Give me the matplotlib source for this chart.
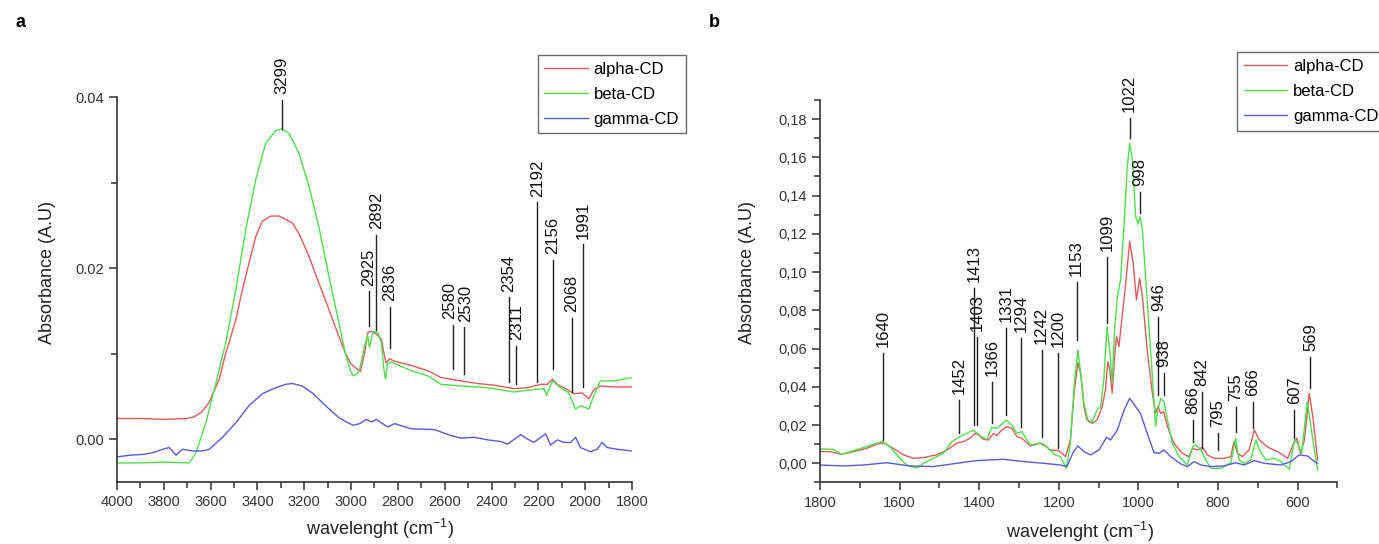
import matplotlib
matplotlib.use('Agg')
import matplotlib.pyplot as plt
from matplotlib.ticker import MultipleLocator, FuncFormatter

plt.rcParams['font.family'] = ['Liberation Sans', 'DejaVu Sans']
plt.rcParams['mathtext.fontset'] = 'custom'
plt.rcParams['mathtext.rm'] = 'Liberation Sans'

# ---- data: (wavenumber, absorbance) ----
# panel a (4000-1800 cm-1)
alpha_a = [(4000, 0.0024), (3900, 0.0024), (3800, 0.0023), (3700, 0.0024), (3670, 0.0026),
           (3640, 0.0031), (3606, 0.0043), (3563, 0.0070), (3535, 0.0101), (3521, 0.0113),
           (3492, 0.0140), (3464, 0.0175), (3436, 0.0206), (3407, 0.0237), (3379, 0.0255),
           (3343, 0.0261), (3308, 0.0261), (3279, 0.0257), (3251, 0.0253), (3223, 0.0241),
           (3180, 0.0214), (3138, 0.0183), (3095, 0.0152), (3052, 0.0120), (3020, 0.0098),
           (3000, 0.0088), (2975, 0.0082), (2960, 0.0079), (2942, 0.0101), (2928, 0.0125),
           (2913, 0.0126), (2892, 0.0123), (2871, 0.0117), (2857, 0.0097), (2850, 0.0089),
           (2836, 0.0094), (2814, 0.0091), (2743, 0.0086), (2672, 0.0080), (2616, 0.0072),
           (2530, 0.0068), (2460, 0.0065), (2389, 0.0063), (2304, 0.0059), (2247, 0.0060),
           (2190, 0.0064), (2162, 0.0064), (2140, 0.0070), (2119, 0.0064), (2077, 0.0058),
           (2048, 0.0053), (2013, 0.0054), (1984, 0.0047), (1963, 0.0058), (1935, 0.0062),
           (1878, 0.0061), (1800, 0.0061)]
beta_a = [(4000, -0.0028), (3900, -0.0028), (3800, -0.0027), (3690, -0.0028), (3662, -0.0016),
          (3620, 0.0019), (3577, 0.0066), (3535, 0.0113), (3492, 0.0175), (3450, 0.0245),
          (3407, 0.0304), (3365, 0.0346), (3322, 0.0361), (3296, 0.0363), (3265, 0.0358),
          (3223, 0.0335), (3180, 0.0296), (3138, 0.0249), (3095, 0.0191), (3052, 0.0136),
          (3024, 0.0100), (3003, 0.0080), (2991, 0.0074), (2975, 0.0076), (2963, 0.0082),
          (2942, 0.0109), (2930, 0.0121), (2921, 0.0107), (2906, 0.0126), (2885, 0.0125),
          (2871, 0.0113), (2860, 0.0082), (2853, 0.0070), (2845, 0.0088), (2828, 0.0090),
          (2743, 0.0080), (2672, 0.0074), (2616, 0.0064), (2530, 0.0062), (2460, 0.0061),
          (2389, 0.0059), (2304, 0.0055), (2219, 0.0058), (2176, 0.0059), (2165, 0.0051),
          (2140, 0.0068), (2105, 0.0060), (2070, 0.0054), (2041, 0.0035), (2020, 0.0039),
          (1984, 0.0035), (1963, 0.0051), (1935, 0.0068), (1878, 0.0068), (1800, 0.0072)]
gamma_a = [(4000, -0.0021), (3946, -0.0019), (3889, -0.0018), (3847, -0.0016), (3804, -0.0012),
           (3776, -0.0010), (3748, -0.0019), (3720, -0.0012), (3677, -0.0014), (3634, -0.0014),
           (3606, -0.0012), (3549, 0.0002), (3492, 0.0019), (3436, 0.0039), (3379, 0.0053),
           (3322, 0.0060), (3279, 0.0064), (3251, 0.0065), (3209, 0.0062), (3166, 0.0054),
           (3109, 0.0039), (3052, 0.0025), (3020, 0.0020), (2991, 0.0016), (2963, 0.0018),
           (2935, 0.0023), (2913, 0.0020), (2892, 0.0023), (2871, 0.0019), (2843, 0.0014),
           (2814, 0.0018), (2743, 0.0012), (2644, 0.0011), (2573, 0.0004), (2530, 0.0001),
           (2474, 0.0002), (2417, -0.0001), (2360, -0.0003), (2332, -0.0006), (2275, 0.0005),
           (2247, 0.0000), (2219, -0.0004), (2190, 0.0002), (2169, 0.0006), (2148, -0.0007),
           (2119, -0.0001), (2091, -0.0004), (2062, -0.0004), (2041, 0.0002), (2020, -0.0010),
           (1977, -0.0015), (1949, -0.0012), (1928, -0.0004), (1906, -0.0010), (1864, -0.0012),
           (1800, -0.0014)]

# panel b (1800-550 cm-1)
alpha_b = [(1800, 0.0061), (1775, 0.0061), (1746, 0.0047), (1716, 0.0061), (1683, 0.0078),
           (1658, 0.0099), (1641, 0.0108), (1616, 0.0078), (1590, 0.0044), (1565, 0.0026),
           (1540, 0.0030), (1507, 0.0044), (1481, 0.0070), (1456, 0.0105), (1440, 0.0113),
           (1423, 0.0131), (1410, 0.0157), (1402, 0.0148), (1389, 0.0125), (1377, 0.0122),
           (1364, 0.0157), (1356, 0.0145), (1343, 0.0174), (1331, 0.0192), (1318, 0.0183),
           (1305, 0.0139), (1293, 0.0131), (1272, 0.0091), (1247, 0.0105), (1238, 0.0099),
           (1222, 0.0070), (1200, 0.0066), (1183, 0.0035), (1171, 0.0122), (1161, 0.0383),
           (1152, 0.0526), (1145, 0.0470), (1137, 0.0296), (1129, 0.0226), (1116, 0.0209),
           (1104, 0.0226), (1091, 0.0296), (1083, 0.0383), (1077, 0.0530), (1072, 0.0490),
           (1066, 0.0366), (1060, 0.0557), (1055, 0.0662), (1049, 0.0610), (1041, 0.0767),
           (1032, 0.0941), (1022, 0.1160), (1013, 0.1045), (1005, 0.0854), (997, 0.0967),
           (990, 0.0871), (978, 0.0592), (965, 0.0366), (957, 0.0261), (951, 0.0296),
           (944, 0.0261), (937, 0.0270), (927, 0.0192), (911, 0.0105), (890, 0.0052),
           (873, 0.0035), (864, 0.0078), (852, 0.0070), (839, 0.0084), (827, 0.0044),
           (810, 0.0026), (785, 0.0026), (768, 0.0035), (760, 0.0113), (751, 0.0052),
           (739, 0.0035), (722, 0.0070), (709, 0.0174), (696, 0.0122), (675, 0.0084),
           (650, 0.0061), (625, 0.0026), (610, 0.0105), (602, 0.0131), (593, 0.0052),
           (583, 0.0122), (571, 0.0366), (562, 0.0244), (550, 0.0017)]
beta_b = [(1800, 0.0075), (1766, 0.0073), (1746, 0.0047), (1716, 0.0066), (1683, 0.0087),
          (1658, 0.0105), (1641, 0.0113), (1624, 0.0087), (1603, 0.0035), (1582, -0.0009),
          (1557, -0.0026), (1540, 0.0000), (1515, 0.0026), (1490, 0.0052), (1469, 0.0113),
          (1452, 0.0136), (1431, 0.0157), (1414, 0.0174), (1398, 0.0143), (1381, 0.0125),
          (1368, 0.0188), (1356, 0.0183), (1343, 0.0204), (1332, 0.0226), (1318, 0.0200),
          (1305, 0.0157), (1293, 0.0166), (1272, 0.0096), (1247, 0.0105), (1226, 0.0078),
          (1209, 0.0044), (1196, 0.0035), (1181, -0.0026), (1171, 0.0105), (1161, 0.0418),
          (1152, 0.0592), (1144, 0.0453), (1137, 0.0314), (1127, 0.0226), (1116, 0.0218),
          (1104, 0.0279), (1095, 0.0296), (1087, 0.0436), (1079, 0.0714), (1072, 0.0592),
          (1066, 0.0418), (1060, 0.0697), (1053, 0.0871), (1045, 0.0958), (1036, 0.1254),
          (1028, 0.1551), (1022, 0.1672), (1015, 0.1585), (1007, 0.1289), (1001, 0.1254),
          (996, 0.1289), (990, 0.1220), (982, 0.0976), (973, 0.0697), (965, 0.0453),
          (957, 0.0192), (951, 0.0279), (944, 0.0340), (936, 0.0322), (927, 0.0226),
          (915, 0.0105), (898, 0.0035), (877, -0.0009), (864, 0.0087), (856, 0.0096),
          (843, 0.0070), (831, 0.0017), (818, -0.0026), (793, -0.0026), (768, 0.0003),
          (756, 0.0131), (747, 0.0017), (735, 0.0000), (718, 0.0017), (705, 0.0122),
          (696, 0.0070), (680, 0.0017), (659, 0.0026), (642, 0.0009), (621, -0.0031),
          (608, 0.0122), (600, 0.0105), (590, 0.0052), (576, 0.0322), (568, 0.0209),
          (558, 0.0070), (550, -0.0035)]
gamma_b = [(1800, -0.0009), (1741, -0.0014), (1691, -0.0009), (1632, 0.0003), (1574, -0.0014),
           (1515, -0.0017), (1456, 0.0000), (1406, 0.0014), (1339, 0.0021), (1289, 0.0009),
           (1238, 0.0000), (1196, -0.0009), (1180, -0.0017), (1163, 0.0061), (1152, 0.0091),
           (1137, 0.0061), (1120, 0.0044), (1099, 0.0070), (1080, 0.0136), (1070, 0.0122),
           (1053, 0.0174), (1036, 0.0279), (1022, 0.0340), (1007, 0.0296), (995, 0.0261),
           (978, 0.0157), (961, 0.0056), (948, 0.0052), (936, 0.0070), (919, 0.0035),
           (894, -0.0003), (877, -0.0017), (860, 0.0009), (843, -0.0009), (818, -0.0017),
           (785, -0.0014), (756, 0.0003), (735, -0.0009), (709, 0.0014), (684, 0.0000),
           (642, -0.0009), (617, 0.0009), (596, 0.0044), (575, 0.0038), (558, 0.0009),
           (550, 0.0000)]

series_names = ['alpha-CD', 'beta-CD', 'gamma-CD']
series_colors = ['#e05a5a', '#4ee04e', '#5a5ad8']

# peak labels: text, line x, line bottom, line top (layout of the marker lines)
peaks_a = [('3299', 3296, 0.0363, 0.0397), ('2925', 2925, 0.0132, 0.0173),
           ('2892', 2892, 0.0128, 0.0239), ('2836', 2835, 0.0107, 0.0155),
           ('2580', 2566, 0.0082, 0.0134), ('2530', 2516, 0.0076, 0.0131),
           ('2354', 2325, 0.0067, 0.0166), ('2311', 2294, 0.0064, 0.0109),
           ('2192', 2204, 0.0067, 0.0277), ('2156', 2138, 0.0082, 0.0210),
           ('2068', 2058, 0.0055, 0.0142), ('1991', 2008, 0.0061, 0.0228)]
peaks_b = [('1640', 1641, 0.0122, 0.0577), ('1452', 1450, 0.0159, 0.0331),
           ('1413', 1412, 0.0200, 0.0917), ('1403', 1406, 0.0200, 0.0661),
           ('1366', 1367, 0.0211, 0.0425), ('1331', 1333, 0.0253, 0.0708),
           ('1294', 1295, 0.0190, 0.0655), ('1242', 1243, 0.0138, 0.0593),
           ('1200', 1201, 0.0080, 0.0577), ('1153', 1155, 0.0645, 0.0949),
           ('1099', 1078, 0.0734, 0.1079), ('1022', 1022, 0.1701, 0.1806),
           ('998', 996, 0.1309, 0.1419), ('946', 950, 0.0357, 0.0765),
           ('938', 936, 0.0357, 0.0473), ('866', 864, 0.0111, 0.0227),
           ('842', 841, 0.0080, 0.0373), ('795', 801, 0.0070, 0.0159),
           ('755', 755, 0.0164, 0.0295), ('666', 712, 0.0185, 0.0321),
           ('607', 608, 0.0132, 0.0279), ('569', 568, 0.0395, 0.0557)]
# small sideways nudges (points) for crowded labels
label_nudge = {'2580': -2, '2530': 1}


def draw_panel(ax, curves, peaks):
    for data, name, col in zip(curves, series_names, series_colors):
        wn = [p[0] for p in data]
        ab = [p[1] for p in data]
        ax.plot(wn, ab, color=col, lw=1.0, label=name)
    for txt, x, y0, y1 in peaks:
        ax.plot([x, x], [y0, y1], color='#222222', lw=1.0, clip_on=False)
        ax.annotate(txt, xy=(x, y1), xytext=(label_nudge.get(txt, 0), 4),
                    textcoords='offset points', rotation=90, ha='center', va='bottom',
                    fontsize=12, color='#111111', annotation_clip=False)
    for s in ['top', 'right']:
        ax.spines[s].set_visible(False)
    for s in ['left', 'bottom']:
        ax.spines[s].set_linewidth(1.2)
        ax.spines[s].set_color('#333333')
    ax.tick_params(which='major', direction='out', length=6, width=1.1,
                   labelsize=10.5, colors='#333333')
    ax.tick_params(which='minor', direction='out', length=4, width=1.1, colors='#333333')
    ax.set_ylabel('Absorbance (A.U)', fontsize=13, color='#222222')
    ax.set_xlabel(r'wavelenght (cm$^{\mathregular{-1}}$)', fontsize=13, color='#222222')


fig = plt.figure(figsize=(13.79, 5.44), dpi=100)

# ---- panel a ----
ax1 = fig.add_axes([0.0848, 0.1145, 0.3735, 0.7066])
draw_panel(ax1, [alpha_a, beta_a, gamma_a], peaks_a)
ax1.set_xlim(4000, 1800)
ax1.set_ylim(-0.005, 0.04)
ax1.xaxis.set_major_locator(MultipleLocator(200))
ax1.xaxis.set_minor_locator(MultipleLocator(100))
ax1.yaxis.set_major_locator(MultipleLocator(0.02))
ax1.yaxis.set_minor_locator(MultipleLocator(0.01))
ax1.yaxis.set_major_formatter(FuncFormatter(lambda v, p: '%.2f' % v))
ax1.yaxis.set_label_coords(-0.118, 0.545)
ax1.xaxis.set_label_coords(0.511, -0.092)
ax1.legend(loc='upper left', bbox_to_anchor=(0.390, 0.899), bbox_transform=fig.transFigure,
           fontsize=12, frameon=True, fancybox=False, edgecolor='#444444',
           handlelength=2.6, handletextpad=0.35, labelspacing=0.6, borderpad=0.4,
           borderaxespad=0)
ax1.get_legend().get_frame().set_linewidth(1.0)

# ---- panel b ----
ax2 = fig.add_axes([0.5946, 0.1132, 0.3753, 0.7031])
draw_panel(ax2, [alpha_b, beta_b, gamma_b], peaks_b)
ax2.set_xlim(1800, 500)
ax2.set_ylim(-0.01, 0.19)
ax2.xaxis.set_major_locator(MultipleLocator(200))
ax2.xaxis.set_minor_locator(MultipleLocator(100))
ax2.yaxis.set_major_locator(MultipleLocator(0.02))
ax2.yaxis.set_minor_locator(MultipleLocator(0.01))
ax2.xaxis.set_major_formatter(FuncFormatter(lambda v, p: '%d' % v if v >= 600 else ''))
ax2.yaxis.set_major_formatter(FuncFormatter(lambda v, p: ('%.2f' % v).replace('.', ',') if v >= -0.001 else ''))
ax2.yaxis.set_label_coords(-0.124, 0.55)
ax2.xaxis.set_label_coords(0.502, -0.098)
ax2.legend(loc='upper left', bbox_to_anchor=(0.897, 0.904), bbox_transform=fig.transFigure,
           fontsize=12, frameon=True, fancybox=False, edgecolor='#444444',
           handlelength=2.6, handletextpad=0.35, labelspacing=0.6, borderpad=0.4,
           borderaxespad=0)
ax2.get_legend().get_frame().set_linewidth(1.0)

# panel letters
fig.text(0.011, 0.958, 'a', fontsize=13, fontweight='bold', va='center')
fig.text(0.514, 0.958, 'b', fontsize=13, fontweight='bold', va='center')

fig.savefig('out.png', dpi=100)
